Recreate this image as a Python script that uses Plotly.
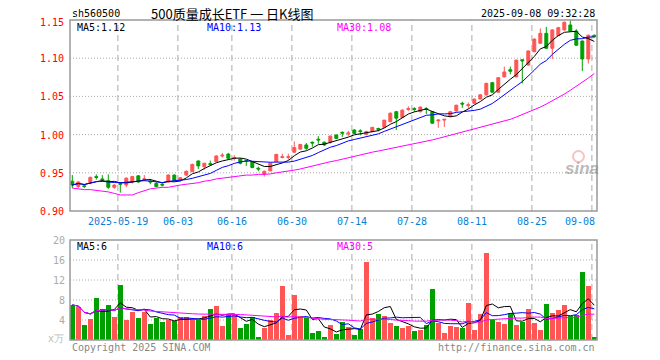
import plotly.graph_objects as go
import pandas as pd

# ---------------- data ----------------
dates = (
    ["2025-05-%02d" % d for d in [7, 8, 9, 12, 13, 14, 15, 16, 19, 20, 21, 22, 23, 26, 27, 28, 29, 30]]
    + ["2025-06-%02d" % d for d in [3, 4, 5, 6, 9, 10, 11, 12, 13, 16, 17, 18, 19, 20, 23, 24, 25, 26, 27, 30]]
    + ["2025-07-%02d" % d for d in [1, 2, 3, 4, 7, 8, 9, 10, 11, 14, 15, 16, 17, 18, 21, 22, 23, 24, 25, 28, 29, 30, 31]]
    + ["2025-08-%02d" % d for d in [1, 4, 5, 6, 7, 8, 11, 12, 13, 14, 15, 18, 19, 20, 21, 22, 25, 26, 27, 28, 29]]
    + ["2025-09-%02d" % d for d in [1, 2, 3, 4, 5, 8]]
)

opens = [0.939, 0.932, 0.933, 0.937, 0.945, 0.942, 0.940, 0.931, 0.936, 0.934,
         0.938, 0.946, 0.941, 0.939, 0.936, 0.935, 0.938, 0.947, 0.9405, 0.947,
         0.9515, 0.9655, 0.958, 0.962, 0.9645, 0.972, 0.9745, 0.969, 0.968, 0.966,
         0.9645, 0.956, 0.948, 0.9525, 0.9645, 0.970, 0.970, 0.977, 0.981, 0.9865,
         0.990, 0.994, 0.990, 0.990, 0.9995, 1.003, 1.001, 1.006, 1.005, 1.0005,
         1.004, 1.008, 1.0095, 1.017, 1.030, 1.0225, 1.033, 1.034, 1.030, 1.034,
         1.030, 1.018, 1.019, 1.0235, 1.031, 1.041, 1.038, 1.041, 1.0465, 1.052,
         1.068, 1.0555, 1.0755, 1.085, 1.0755, 1.098, 1.091, 1.1085, 1.1195, 1.1325,
         1.113, 1.1295, 1.137, 1.1435, 1.1355, 1.1225, 1.099, 1.130]
highs = [0.947, 0.939, 0.935, 0.945, 0.948, 0.947, 0.948, 0.935, 0.937, 0.944,
         0.946, 0.947, 0.947, 0.942, 0.938, 0.936, 0.948, 0.948, 0.944, 0.953,
         0.962, 0.966, 0.963, 0.966, 0.973, 0.976, 0.976, 0.973, 0.969, 0.967,
         0.965, 0.958, 0.953, 0.963, 0.975, 0.975, 0.975, 0.991, 0.988, 0.989,
         0.991, 0.998, 0.991, 0.999, 1.000, 1.004, 1.005, 1.007, 1.007, 1.005,
         1.010, 1.009, 1.019, 1.029, 1.031, 1.033, 1.037, 1.036, 1.037, 1.036,
         1.031, 1.020, 1.020, 1.031, 1.039, 1.043, 1.042, 1.047, 1.053, 1.068,
         1.069, 1.075, 1.089, 1.089, 1.098, 1.099, 1.110, 1.126, 1.139, 1.141,
         1.138, 1.141, 1.148, 1.150, 1.138, 1.123, 1.131, 1.131]
lows = [0.930, 0.930, 0.930, 0.935, 0.941, 0.938, 0.929, 0.929, 0.924, 0.931,
        0.936, 0.937, 0.939, 0.935, 0.931, 0.932, 0.937, 0.939, 0.939, 0.946,
        0.951, 0.955, 0.954, 0.959, 0.964, 0.970, 0.968, 0.966, 0.961, 0.959,
        0.956, 0.952, 0.945, 0.952, 0.964, 0.969, 0.967, 0.976, 0.980, 0.980,
        0.984, 0.988, 0.985, 0.988, 0.994, 0.997, 0.998, 1.001, 0.999, 0.999,
        1.003, 1.004, 1.009, 1.016, 1.006, 1.022, 1.031, 1.030, 1.029, 1.027,
        1.014, 1.009, 1.010, 1.023, 1.030, 1.035, 1.034, 1.040, 1.046, 1.051,
        1.055, 1.055, 1.075, 1.079, 1.075, 1.067, 1.090, 1.108, 1.119, 1.112,
        1.099, 1.129, 1.136, 1.135, 1.116, 1.083, 1.093, 1.127]
closes = [0.934, 0.938, 0.932, 0.944, 0.944, 0.941, 0.931, 0.934, 0.935, 0.943,
          0.945, 0.938, 0.942, 0.938, 0.932, 0.934, 0.947, 0.940, 0.9435, 0.952,
          0.961, 0.959, 0.9625, 0.961, 0.972, 0.973, 0.969, 0.970, 0.9625, 0.965,
          0.957, 0.955, 0.952, 0.9625, 0.974, 0.971, 0.971, 0.983, 0.987, 0.982,
          0.989, 0.993, 0.9865, 0.998, 0.995, 1.002, 1.002, 1.0015, 1.004, 1.004,
          1.0095, 1.007, 1.019, 1.028, 1.0215, 1.032, 1.034, 1.033, 1.036, 1.033,
          1.015, 1.019, 1.020, 1.030, 1.0385, 1.040, 1.039, 1.0465, 1.052, 1.067,
          1.0555, 1.0745, 1.082, 1.083, 1.0975, 1.0965, 1.1095, 1.125, 1.1325, 1.113,
          1.137, 1.140, 1.147, 1.1355, 1.117, 1.099, 1.130, 1.128]
volumes = [7.0, 6.6, 3.0, 4.3, 8.4, 6.2, 7.0, 4.6, 11.0, 4.0,
           5.7, 4.4, 5.7, 3.2, 4.4, 3.6, 4.1, 3.8, 4.6, 4.6,
           4.0, 4.0, 4.9, 6.2, 6.8, 2.8, 5.3, 5.0, 2.4, 3.2,
           4.7, 0.6, 2.4, 4.0, 5.4, 10.8, 1.0, 9.0, 4.8, 4.4,
           1.4, 1.8, 0.6, 3.0, 1.2, 3.6, 2.6, 1.0, 2.2, 15.7,
           4.4, 5.2, 4.8, 3.4, 2.8, 2.4, 2.8, 1.8, 2.0, 3.0,
           10.2, 3.4, 1.4, 2.8, 2.6, 2.4, 7.4, 2.0, 5.2, 17.4,
           4.0, 3.6, 3.2, 5.4, 3.0, 3.6, 6.2, 3.4, 2.0, 7.2,
           5.4, 6.0, 7.0, 4.8, 5.0, 13.6, 10.8, 0.6]
ma30_price = [0.930, 0.929, 0.928, 0.928, 0.927, 0.926, 0.925, 0.923, 0.921, 0.921,
              0.921, 0.924, 0.927, 0.929, 0.930, 0.931, 0.931, 0.933, 0.934, 0.935,
              0.936, 0.937, 0.939, 0.940, 0.942, 0.943, 0.944, 0.945, 0.946, 0.947,
              0.947, 0.948, 0.948, 0.9485, 0.950, 0.951, 0.952, 0.9535, 0.955, 0.957,
              0.958, 0.960, 0.962, 0.9645, 0.966, 0.968, 0.970, 0.972, 0.9735, 0.975,
              0.977, 0.9785, 0.980, 0.982, 0.9835, 0.985, 0.987, 0.9885, 0.990, 0.9915,
              0.993, 0.995, 0.997, 0.999, 1.001, 1.003, 1.005, 1.007, 1.009, 1.011,
              1.013, 1.015, 1.017, 1.020, 1.023, 1.026, 1.029, 1.033, 1.036, 1.040,
              1.044, 1.048, 1.053, 1.058, 1.063, 1.068, 1.074, 1.080]

tick_dates = ["2025-05-19", "06-03", "06-16", "06-30", "07-14", "07-28", "08-11", "08-25", "09-08"]
tick_bars = [8, 18, 27, 37, 47, 57, 67, 77, 87]
price_ticks = [0.90, 0.95, 1.00, 1.05, 1.10, 1.15]
vol_ticks = [4, 8, 12, 16, 20]

title_code = "sh560500"
title_name = "500质量成长ETF 一 日K线图"
timestamp = "2025-09-08 09:32:28"
price_legend = ["MA5:1.12", "MA10:1.13", "MA30:1.08"]
vol_legend = ["MA5:6", "MA10:6", "MA30:5"]

# ---------------- styling ----------------
W, H = 660, 360
RED = "#ff5555"
GREEN = "#00a000"
GRID = "#aaaaaa"
FRAME = "#999999"
MONO = "DejaVu Sans Mono"
L, R = 70, 597
P_TOP, P_BOT = 20, 211
V_TOP, V_BOT = 240, 340


def fx(p):
    return p / W


def fy(p):
    return 1 - p / H


idx = list(range(len(closes)))
cl = pd.Series(closes)
ma5 = cl.rolling(5, min_periods=1).mean()
ma10 = cl.rolling(10, min_periods=1).mean()
vs = pd.Series(volumes)
vma5 = vs.rolling(5, min_periods=1).mean()
vma10 = vs.rolling(10, min_periods=1).mean()
vma30 = vs.rolling(30, min_periods=1).mean()
vcolors = [RED if c >= o else GREEN for o, c in zip(opens, closes)]

xr = [-0.383, 87.45]

fig = go.Figure()
fig.add_trace(go.Candlestick(
    x=idx, open=opens, high=highs, low=lows, close=closes,
    increasing=dict(line=dict(color=RED, width=1), fillcolor=RED),
    decreasing=dict(line=dict(color=GREEN, width=1), fillcolor=GREEN),
    whiskerwidth=0, xaxis="x", yaxis="y", hoverinfo="skip"))
fig.add_trace(go.Scatter(x=idx, y=ma5, mode="lines", line=dict(color="black", width=1), xaxis="x", yaxis="y"))
fig.add_trace(go.Scatter(x=idx, y=ma10, mode="lines", line=dict(color="#0000ff", width=1), xaxis="x", yaxis="y"))
fig.add_trace(go.Scatter(x=idx, y=ma30_price, mode="lines", line=dict(color="#ff00ff", width=1), xaxis="x", yaxis="y"))

fig.add_trace(go.Bar(x=idx, y=volumes, marker=dict(color=vcolors, line=dict(width=0)), width=0.83,
                     xaxis="x2", yaxis="y2"))
fig.add_trace(go.Scatter(x=idx, y=vma5, mode="lines", line=dict(color="black", width=1), xaxis="x2", yaxis="y2"))
fig.add_trace(go.Scatter(x=idx, y=vma10, mode="lines", line=dict(color="#0000ff", width=1), xaxis="x2", yaxis="y2"))
fig.add_trace(go.Scatter(x=idx, y=vma30, mode="lines", line=dict(color="#ff00ff", width=1), xaxis="x2", yaxis="y2"))

shapes = []
# vertical dashed grid lines
for b in tick_bars:
    xv = b - 0.4
    for (t, bt) in [(P_TOP, P_BOT), (V_TOP, V_BOT)]:
        shapes.append(dict(type="line", xref="x", yref="paper", x0=xv, x1=xv, y0=fy(bt), y1=fy(t),
                           line=dict(color=GRID, width=1, dash="6px,4px"), layer="below"))
# horizontal dotted grid lines
for v in price_ticks[1:-1]:
    shapes.append(dict(type="line", xref="paper", yref="y", x0=fx(L), x1=fx(R), y0=v, y1=v,
                       line=dict(color=GRID, width=1, dash="1px,2px"), layer="below"))
for v in vol_ticks[:-1]:
    shapes.append(dict(type="line", xref="paper", yref="y2", x0=fx(L), x1=fx(R), y0=v, y1=v,
                       line=dict(color=GRID, width=1, dash="1px,2px"), layer="below"))
# frames
for (t, bt) in [(P_TOP, P_BOT), (V_TOP, V_BOT)]:
    shapes.append(dict(type="rect", xref="paper", yref="paper", x0=fx(L), x1=fx(R), y0=fy(bt), y1=fy(t),
                       line=dict(color=FRAME, width=1.5), fillcolor="rgba(0,0,0,0)", layer="above"))
# sina logo eye
shapes.append(dict(type="circle", xref="paper", yref="paper", x0=fx(573), x1=fx(584), y0=fy(162), y1=fy(151),
                   line=dict(color="rgba(240,120,120,0.45)", width=2), fillcolor="rgba(0,0,0,0)"))

ann = []


def text(x, y, s, color="black", size=10, anchor="left", family=MONO, height=None):
    d = dict(x=fx(x), y=fy(y), xref="paper", yref="paper", text=s, showarrow=False,
             xanchor=anchor, yanchor="middle", font=dict(family=family, size=size, color=color))
    if height:
        d["height"] = height
    ann.append(d)


text(70, 13, title_code, height=12)
text(232, 14, title_name, size=13, anchor="center", family="Noto Sans CJK SC", height=15)
text(597, 13, timestamp, anchor="right", height=12)
for s, x, c in zip(price_legend, [75, 205, 335], ["black", "#0000ff", "#ff00ff"]):
    text(x, 27, s, color=c, height=12)
for s, x, c in zip(vol_legend, [75, 205, 335], ["black", "#0000ff", "#ff00ff"]):
    text(x, 246, s, color=c, height=12)
for v in price_ticks:
    yp = P_BOT - (v - 0.90) / 0.25 * (P_BOT - P_TOP)
    text(66, max(yp, 22), "%.2f" % v, color="#ff0000", anchor="right", height=12)
for v in vol_ticks:
    yp = V_BOT - v / 20 * (V_BOT - V_TOP)
    text(67, yp, str(v), color="#aaaaaa", anchor="right", height=12)
text(66, 338, "x万", color="#bbbbbb", anchor="right", height=12)
for i, (b, s) in enumerate(zip(tick_bars, tick_dates)):
    last = i == len(tick_bars) - 1
    ann.append(dict(x=(fx(R) if last else b - 0.4), y=fy(221), xref=("paper" if last else "x"), yref="paper",
                    text=s, showarrow=False, xanchor=("right" if last else "center"), yanchor="middle",
                    height=12, font=dict(family=MONO, size=10, color="#0a7fd6")))
text(70, 347, "Copyright 2025 SINA.COM", color="#888888", height=12)
text(597, 347, "http://finance.sina.com.cn", color="#888888", anchor="right", height=12)
ann.append(dict(x=fx(582), y=fy(168), xref="paper", yref="paper", text="sina", showarrow=False,
                xanchor="center", yanchor="middle",
                font=dict(family="Liberation Sans", size=17, color="rgba(140,140,140,0.6)", weight="bold", style="italic")))

fig.update_layout(
    width=W, height=H, margin=dict(l=0, r=0, t=0, b=0),
    paper_bgcolor="white", plot_bgcolor="white", showlegend=False,
    shapes=shapes, annotations=ann, bargap=0, hovermode=False,
    xaxis=dict(domain=[fx(L), fx(R)], range=xr, showgrid=False, showticklabels=False, zeroline=False,
               rangeslider=dict(visible=False), anchor="y", fixedrange=True),
    yaxis=dict(domain=[fy(P_BOT), fy(P_TOP)], range=[0.90, 1.15], showgrid=False, showticklabels=False,
               zeroline=False, anchor="x", fixedrange=True),
    xaxis2=dict(domain=[fx(L), fx(R)], range=xr, showgrid=False, showticklabels=False, zeroline=False,
                anchor="y2", fixedrange=True),
    yaxis2=dict(domain=[fy(V_BOT), fy(V_TOP)], range=[0, 20], showgrid=False, showticklabels=False,
                zeroline=False, anchor="x2", fixedrange=True),
)

# remove the page's default 8px body margin so the figure sits at the window's top-left corner
fig.write_html("out.html", config={"displayModeBar": False},
               post_script="document.body.style.margin='0px';")
